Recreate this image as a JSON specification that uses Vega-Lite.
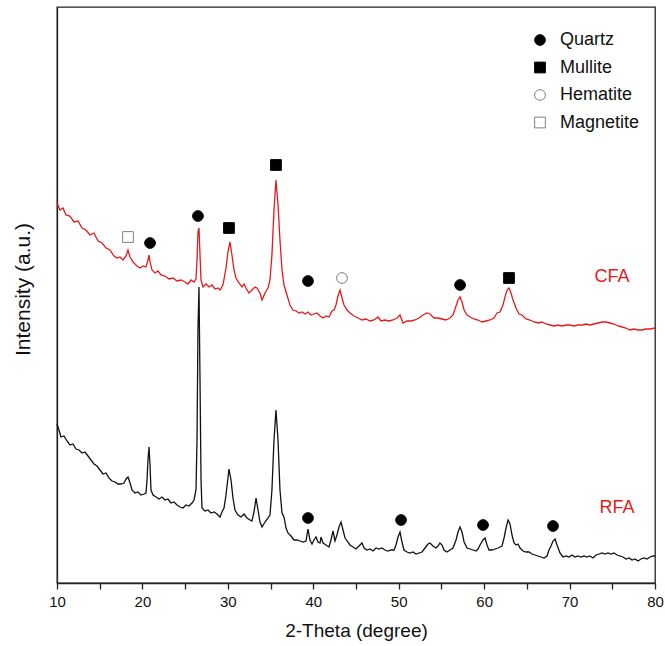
{
  "$schema": "https://vega.github.io/schema/vega-lite/v6.json",
  "width": 598,
  "height": 576,
  "autosize": {"type": "none"},
  "padding": {"left": 57, "top": 7, "right": 10, "bottom": 63},
  "background": "white",
  "config": {
    "view": {"stroke": "#222", "strokeWidth": 1.3},
    "font": "Liberation Sans",
    "axis": {"grid": false, "domainColor": "#222", "tickColor": "#222", "labelColor": "#111", "titleColor": "#111", "titleFontWeight": "normal", "labelFont": "Liberation Sans", "titleFont": "Liberation Sans"},
    "legend": {"labelFont": "Liberation Sans", "labelFontSize": 18, "labelColor": "#111"}
  },
  "datasets": {
    "xrd": [
      {"sample":"CFA","theta":10.0,"intensity":380},{"sample":"CFA","theta":10.35,"intensity":373},{"sample":"CFA","theta":10.7,"intensity":375},{"sample":"CFA","theta":11.05,"intensity":368},{"sample":"CFA","theta":11.5,"intensity":367},{"sample":"CFA","theta":12.0,"intensity":361},{"sample":"CFA","theta":12.46,"intensity":362},{"sample":"CFA","theta":12.93,"intensity":355},{"sample":"CFA","theta":13.39,"intensity":353},{"sample":"CFA","theta":13.86,"intensity":348},{"sample":"CFA","theta":14.33,"intensity":350},{"sample":"CFA","theta":14.8,"intensity":342},{"sample":"CFA","theta":15.27,"intensity":340},{"sample":"CFA","theta":15.74,"intensity":335},{"sample":"CFA","theta":16.2,"intensity":333},{"sample":"CFA","theta":16.67,"intensity":327},{"sample":"CFA","theta":17.02,"intensity":325},{"sample":"CFA","theta":17.37,"intensity":326},{"sample":"CFA","theta":17.73,"intensity":323},{"sample":"CFA","theta":18.08,"intensity":327},{"sample":"CFA","theta":18.31,"intensity":333},{"sample":"CFA","theta":18.55,"intensity":326},{"sample":"CFA","theta":18.9,"intensity":321},{"sample":"CFA","theta":19.36,"intensity":317},{"sample":"CFA","theta":19.72,"intensity":315},{"sample":"CFA","theta":20.07,"intensity":317},{"sample":"CFA","theta":20.42,"intensity":316},{"sample":"CFA","theta":20.65,"intensity":323},{"sample":"CFA","theta":20.77,"intensity":328},{"sample":"CFA","theta":20.89,"intensity":321},{"sample":"CFA","theta":21.12,"intensity":313},{"sample":"CFA","theta":21.47,"intensity":310},{"sample":"CFA","theta":21.82,"intensity":312},{"sample":"CFA","theta":22.17,"intensity":308},{"sample":"CFA","theta":22.64,"intensity":307},{"sample":"CFA","theta":23.11,"intensity":304},{"sample":"CFA","theta":23.58,"intensity":305},{"sample":"CFA","theta":24.05,"intensity":302},{"sample":"CFA","theta":24.52,"intensity":303},{"sample":"CFA","theta":24.98,"intensity":301},{"sample":"CFA","theta":25.33,"intensity":299},{"sample":"CFA","theta":25.69,"intensity":303},{"sample":"CFA","theta":26.04,"intensity":301},{"sample":"CFA","theta":26.27,"intensity":304},{"sample":"CFA","theta":26.39,"intensity":323},{"sample":"CFA","theta":26.5,"intensity":351},{"sample":"CFA","theta":26.62,"intensity":355},{"sample":"CFA","theta":26.74,"intensity":328},{"sample":"CFA","theta":26.86,"intensity":303},{"sample":"CFA","theta":27.09,"intensity":296},{"sample":"CFA","theta":27.44,"intensity":299},{"sample":"CFA","theta":27.79,"intensity":296},{"sample":"CFA","theta":28.14,"intensity":298},{"sample":"CFA","theta":28.5,"intensity":294},{"sample":"CFA","theta":28.85,"intensity":295},{"sample":"CFA","theta":29.08,"intensity":293},{"sample":"CFA","theta":29.43,"intensity":298},{"sample":"CFA","theta":29.78,"intensity":315},{"sample":"CFA","theta":30.01,"intensity":331},{"sample":"CFA","theta":30.25,"intensity":341},{"sample":"CFA","theta":30.48,"intensity":328},{"sample":"CFA","theta":30.72,"intensity":313},{"sample":"CFA","theta":30.95,"intensity":305},{"sample":"CFA","theta":31.3,"intensity":300},{"sample":"CFA","theta":31.66,"intensity":296},{"sample":"CFA","theta":31.89,"intensity":299},{"sample":"CFA","theta":32.12,"intensity":295},{"sample":"CFA","theta":32.47,"intensity":290},{"sample":"CFA","theta":32.82,"intensity":293},{"sample":"CFA","theta":33.18,"intensity":296},{"sample":"CFA","theta":33.41,"intensity":295},{"sample":"CFA","theta":33.76,"intensity":290},{"sample":"CFA","theta":34.0,"intensity":283},{"sample":"CFA","theta":34.35,"intensity":290},{"sample":"CFA","theta":34.7,"intensity":295},{"sample":"CFA","theta":34.93,"intensity":303},{"sample":"CFA","theta":35.16,"intensity":328},{"sample":"CFA","theta":35.4,"intensity":373},{"sample":"CFA","theta":35.63,"intensity":403},{"sample":"CFA","theta":35.87,"intensity":378},{"sample":"CFA","theta":36.1,"intensity":343},{"sample":"CFA","theta":36.34,"intensity":313},{"sample":"CFA","theta":36.57,"intensity":298},{"sample":"CFA","theta":36.92,"intensity":288},{"sample":"CFA","theta":37.27,"intensity":278},{"sample":"CFA","theta":37.62,"intensity":273},{"sample":"CFA","theta":37.98,"intensity":272},{"sample":"CFA","theta":38.33,"intensity":270},{"sample":"CFA","theta":38.68,"intensity":271},{"sample":"CFA","theta":39.03,"intensity":269},{"sample":"CFA","theta":39.38,"intensity":271},{"sample":"CFA","theta":39.73,"intensity":268},{"sample":"CFA","theta":40.08,"intensity":269},{"sample":"CFA","theta":40.43,"intensity":270},{"sample":"CFA","theta":40.79,"intensity":267},{"sample":"CFA","theta":41.14,"intensity":265},{"sample":"CFA","theta":41.49,"intensity":267},{"sample":"CFA","theta":41.84,"intensity":266},{"sample":"CFA","theta":42.19,"intensity":272},{"sample":"CFA","theta":42.42,"intensity":273},{"sample":"CFA","theta":42.66,"intensity":278},{"sample":"CFA","theta":42.89,"intensity":287},{"sample":"CFA","theta":43.13,"intensity":293},{"sample":"CFA","theta":43.36,"intensity":285},{"sample":"CFA","theta":43.6,"intensity":278},{"sample":"CFA","theta":43.95,"intensity":273},{"sample":"CFA","theta":44.3,"intensity":270},{"sample":"CFA","theta":44.77,"intensity":267},{"sample":"CFA","theta":45.23,"intensity":265},{"sample":"CFA","theta":45.7,"intensity":263},{"sample":"CFA","theta":46.17,"intensity":264},{"sample":"CFA","theta":46.64,"intensity":262},{"sample":"CFA","theta":47.11,"intensity":263},{"sample":"CFA","theta":47.58,"intensity":266},{"sample":"CFA","theta":47.93,"intensity":262},{"sample":"CFA","theta":48.39,"intensity":263},{"sample":"CFA","theta":48.86,"intensity":262},{"sample":"CFA","theta":49.33,"intensity":263},{"sample":"CFA","theta":49.8,"intensity":265},{"sample":"CFA","theta":50.15,"intensity":268},{"sample":"CFA","theta":50.5,"intensity":260},{"sample":"CFA","theta":50.97,"intensity":262},{"sample":"CFA","theta":51.44,"intensity":262},{"sample":"CFA","theta":51.91,"intensity":263},{"sample":"CFA","theta":52.38,"intensity":265},{"sample":"CFA","theta":52.84,"intensity":268},{"sample":"CFA","theta":53.31,"intensity":270},{"sample":"CFA","theta":53.66,"intensity":269},{"sample":"CFA","theta":54.13,"intensity":265},{"sample":"CFA","theta":54.6,"intensity":265},{"sample":"CFA","theta":55.07,"intensity":264},{"sample":"CFA","theta":55.53,"intensity":263},{"sample":"CFA","theta":56.0,"intensity":265},{"sample":"CFA","theta":56.35,"intensity":268},{"sample":"CFA","theta":56.71,"intensity":277},{"sample":"CFA","theta":56.94,"intensity":283},{"sample":"CFA","theta":57.18,"intensity":286},{"sample":"CFA","theta":57.41,"intensity":281},{"sample":"CFA","theta":57.65,"intensity":273},{"sample":"CFA","theta":58.0,"intensity":268},{"sample":"CFA","theta":58.35,"intensity":266},{"sample":"CFA","theta":58.82,"intensity":264},{"sample":"CFA","theta":59.28,"intensity":263},{"sample":"CFA","theta":59.75,"intensity":261},{"sample":"CFA","theta":60.22,"intensity":262},{"sample":"CFA","theta":60.69,"intensity":263},{"sample":"CFA","theta":61.15,"intensity":265},{"sample":"CFA","theta":61.5,"intensity":270},{"sample":"CFA","theta":61.86,"intensity":271},{"sample":"CFA","theta":62.21,"intensity":278},{"sample":"CFA","theta":62.44,"intensity":286},{"sample":"CFA","theta":62.68,"intensity":293},{"sample":"CFA","theta":62.91,"intensity":295},{"sample":"CFA","theta":63.14,"intensity":290},{"sample":"CFA","theta":63.38,"intensity":283},{"sample":"CFA","theta":63.73,"intensity":275},{"sample":"CFA","theta":64.08,"intensity":269},{"sample":"CFA","theta":64.43,"intensity":268},{"sample":"CFA","theta":64.9,"intensity":264},{"sample":"CFA","theta":65.37,"intensity":263},{"sample":"CFA","theta":65.83,"intensity":261},{"sample":"CFA","theta":66.3,"intensity":260},{"sample":"CFA","theta":66.77,"intensity":261},{"sample":"CFA","theta":67.24,"intensity":259},{"sample":"CFA","theta":67.71,"intensity":258},{"sample":"CFA","theta":68.18,"intensity":257},{"sample":"CFA","theta":68.64,"intensity":258},{"sample":"CFA","theta":69.11,"intensity":257},{"sample":"CFA","theta":69.58,"intensity":258},{"sample":"CFA","theta":70.05,"intensity":258},{"sample":"CFA","theta":70.52,"intensity":257},{"sample":"CFA","theta":70.99,"intensity":258},{"sample":"CFA","theta":71.45,"intensity":258},{"sample":"CFA","theta":71.92,"intensity":259},{"sample":"CFA","theta":72.39,"intensity":258},{"sample":"CFA","theta":72.86,"intensity":259},{"sample":"CFA","theta":73.33,"intensity":260},{"sample":"CFA","theta":73.8,"intensity":261},{"sample":"CFA","theta":74.26,"intensity":261},{"sample":"CFA","theta":74.73,"intensity":260},{"sample":"CFA","theta":75.2,"intensity":259},{"sample":"CFA","theta":75.67,"intensity":257},{"sample":"CFA","theta":76.14,"intensity":256},{"sample":"CFA","theta":76.6,"intensity":255},{"sample":"CFA","theta":77.07,"intensity":253},{"sample":"CFA","theta":77.54,"intensity":254},{"sample":"CFA","theta":78.01,"intensity":253},{"sample":"CFA","theta":78.48,"intensity":253},{"sample":"CFA","theta":78.95,"intensity":254},{"sample":"CFA","theta":79.42,"intensity":254},{"sample":"CFA","theta":80.0,"intensity":255},
      {"sample":"RFA","theta":10.0,"intensity":159},{"sample":"RFA","theta":10.23,"intensity":153},{"sample":"RFA","theta":10.47,"intensity":146},{"sample":"RFA","theta":10.82,"intensity":147},{"sample":"RFA","theta":11.17,"intensity":142},{"sample":"RFA","theta":11.52,"intensity":138},{"sample":"RFA","theta":11.87,"intensity":139},{"sample":"RFA","theta":12.22,"intensity":134},{"sample":"RFA","theta":12.58,"intensity":133},{"sample":"RFA","theta":12.93,"intensity":130},{"sample":"RFA","theta":13.28,"intensity":131},{"sample":"RFA","theta":13.63,"intensity":127},{"sample":"RFA","theta":13.98,"intensity":123},{"sample":"RFA","theta":14.33,"intensity":119},{"sample":"RFA","theta":14.68,"intensity":117},{"sample":"RFA","theta":15.03,"intensity":113},{"sample":"RFA","theta":15.38,"intensity":109},{"sample":"RFA","theta":15.74,"intensity":110},{"sample":"RFA","theta":16.09,"intensity":105},{"sample":"RFA","theta":16.44,"intensity":102},{"sample":"RFA","theta":16.79,"intensity":101},{"sample":"RFA","theta":17.14,"intensity":99},{"sample":"RFA","theta":17.49,"intensity":99},{"sample":"RFA","theta":17.84,"intensity":100},{"sample":"RFA","theta":18.08,"intensity":104},{"sample":"RFA","theta":18.31,"intensity":106},{"sample":"RFA","theta":18.55,"intensity":100},{"sample":"RFA","theta":18.78,"intensity":93},{"sample":"RFA","theta":19.13,"intensity":90},{"sample":"RFA","theta":19.48,"intensity":91},{"sample":"RFA","theta":19.83,"intensity":88},{"sample":"RFA","theta":20.18,"intensity":89},{"sample":"RFA","theta":20.42,"intensity":90},{"sample":"RFA","theta":20.54,"intensity":103},{"sample":"RFA","theta":20.65,"intensity":123},{"sample":"RFA","theta":20.77,"intensity":136},{"sample":"RFA","theta":20.89,"intensity":118},{"sample":"RFA","theta":21.0,"intensity":93},{"sample":"RFA","theta":21.24,"intensity":88},{"sample":"RFA","theta":21.59,"intensity":86},{"sample":"RFA","theta":21.94,"intensity":84},{"sample":"RFA","theta":22.29,"intensity":86},{"sample":"RFA","theta":22.64,"intensity":83},{"sample":"RFA","theta":22.99,"intensity":84},{"sample":"RFA","theta":23.34,"intensity":80},{"sample":"RFA","theta":23.7,"intensity":81},{"sample":"RFA","theta":24.05,"intensity":78},{"sample":"RFA","theta":24.4,"intensity":76},{"sample":"RFA","theta":24.75,"intensity":75},{"sample":"RFA","theta":25.1,"intensity":78},{"sample":"RFA","theta":25.45,"intensity":77},{"sample":"RFA","theta":25.8,"intensity":80},{"sample":"RFA","theta":26.04,"intensity":83},{"sample":"RFA","theta":26.27,"intensity":93},{"sample":"RFA","theta":26.39,"intensity":143},{"sample":"RFA","theta":26.5,"intensity":253},{"sample":"RFA","theta":26.62,"intensity":296},{"sample":"RFA","theta":26.74,"intensity":203},{"sample":"RFA","theta":26.86,"intensity":103},{"sample":"RFA","theta":26.97,"intensity":75},{"sample":"RFA","theta":27.32,"intensity":72},{"sample":"RFA","theta":27.67,"intensity":73},{"sample":"RFA","theta":28.03,"intensity":70},{"sample":"RFA","theta":28.38,"intensity":71},{"sample":"RFA","theta":28.73,"intensity":69},{"sample":"RFA","theta":29.08,"intensity":66},{"sample":"RFA","theta":29.31,"intensity":71},{"sample":"RFA","theta":29.55,"intensity":75},{"sample":"RFA","theta":29.78,"intensity":88},{"sample":"RFA","theta":30.01,"intensity":105},{"sample":"RFA","theta":30.13,"intensity":114},{"sample":"RFA","theta":30.37,"intensity":103},{"sample":"RFA","theta":30.6,"intensity":85},{"sample":"RFA","theta":30.83,"intensity":73},{"sample":"RFA","theta":31.19,"intensity":68},{"sample":"RFA","theta":31.54,"intensity":66},{"sample":"RFA","theta":31.89,"intensity":69},{"sample":"RFA","theta":32.24,"intensity":65},{"sample":"RFA","theta":32.59,"intensity":63},{"sample":"RFA","theta":32.82,"intensity":62},{"sample":"RFA","theta":33.06,"intensity":71},{"sample":"RFA","theta":33.3,"intensity":85},{"sample":"RFA","theta":33.53,"intensity":73},{"sample":"RFA","theta":33.76,"intensity":61},{"sample":"RFA","theta":34.0,"intensity":56},{"sample":"RFA","theta":34.35,"intensity":61},{"sample":"RFA","theta":34.7,"intensity":65},{"sample":"RFA","theta":34.93,"intensity":68},{"sample":"RFA","theta":35.16,"intensity":93},{"sample":"RFA","theta":35.4,"intensity":143},{"sample":"RFA","theta":35.63,"intensity":173},{"sample":"RFA","theta":35.87,"intensity":143},{"sample":"RFA","theta":36.1,"intensity":93},{"sample":"RFA","theta":36.34,"intensity":70},{"sample":"RFA","theta":36.57,"intensity":66},{"sample":"RFA","theta":36.81,"intensity":55},{"sample":"RFA","theta":37.04,"intensity":50},{"sample":"RFA","theta":37.39,"intensity":47},{"sample":"RFA","theta":37.74,"intensity":43},{"sample":"RFA","theta":38.09,"intensity":43},{"sample":"RFA","theta":38.44,"intensity":42},{"sample":"RFA","theta":38.8,"intensity":41},{"sample":"RFA","theta":39.15,"intensity":42},{"sample":"RFA","theta":39.26,"intensity":48},{"sample":"RFA","theta":39.38,"intensity":54},{"sample":"RFA","theta":39.61,"intensity":43},{"sample":"RFA","theta":39.85,"intensity":39},{"sample":"RFA","theta":40.08,"intensity":43},{"sample":"RFA","theta":40.32,"intensity":46},{"sample":"RFA","theta":40.55,"intensity":41},{"sample":"RFA","theta":40.79,"intensity":40},{"sample":"RFA","theta":40.9,"intensity":46},{"sample":"RFA","theta":41.14,"intensity":40},{"sample":"RFA","theta":41.49,"intensity":38},{"sample":"RFA","theta":41.84,"intensity":36},{"sample":"RFA","theta":42.07,"intensity":43},{"sample":"RFA","theta":42.31,"intensity":52},{"sample":"RFA","theta":42.54,"intensity":42},{"sample":"RFA","theta":42.77,"intensity":48},{"sample":"RFA","theta":43.01,"intensity":56},{"sample":"RFA","theta":43.25,"intensity":61},{"sample":"RFA","theta":43.48,"intensity":53},{"sample":"RFA","theta":43.72,"intensity":45},{"sample":"RFA","theta":43.95,"intensity":42},{"sample":"RFA","theta":44.3,"intensity":38},{"sample":"RFA","theta":44.65,"intensity":36},{"sample":"RFA","theta":45.0,"intensity":34},{"sample":"RFA","theta":45.35,"intensity":37},{"sample":"RFA","theta":45.7,"intensity":40},{"sample":"RFA","theta":45.94,"intensity":35},{"sample":"RFA","theta":46.29,"intensity":33},{"sample":"RFA","theta":46.64,"intensity":34},{"sample":"RFA","theta":46.99,"intensity":32},{"sample":"RFA","theta":47.34,"intensity":35},{"sample":"RFA","theta":47.69,"intensity":34},{"sample":"RFA","theta":48.04,"intensity":35},{"sample":"RFA","theta":48.39,"intensity":33},{"sample":"RFA","theta":48.74,"intensity":32},{"sample":"RFA","theta":49.1,"intensity":33},{"sample":"RFA","theta":49.45,"intensity":33},{"sample":"RFA","theta":49.68,"intensity":38},{"sample":"RFA","theta":49.92,"intensity":46},{"sample":"RFA","theta":50.15,"intensity":51},{"sample":"RFA","theta":50.38,"intensity":41},{"sample":"RFA","theta":50.62,"intensity":33},{"sample":"RFA","theta":50.97,"intensity":31},{"sample":"RFA","theta":51.32,"intensity":30},{"sample":"RFA","theta":51.67,"intensity":31},{"sample":"RFA","theta":52.02,"intensity":29},{"sample":"RFA","theta":52.38,"intensity":30},{"sample":"RFA","theta":52.73,"intensity":31},{"sample":"RFA","theta":53.08,"intensity":35},{"sample":"RFA","theta":53.43,"intensity":39},{"sample":"RFA","theta":53.66,"intensity":40},{"sample":"RFA","theta":54.01,"intensity":37},{"sample":"RFA","theta":54.36,"intensity":35},{"sample":"RFA","theta":54.6,"intensity":37},{"sample":"RFA","theta":54.83,"intensity":40},{"sample":"RFA","theta":55.07,"intensity":38},{"sample":"RFA","theta":55.3,"intensity":33},{"sample":"RFA","theta":55.65,"intensity":31},{"sample":"RFA","theta":56.0,"intensity":33},{"sample":"RFA","theta":56.35,"intensity":35},{"sample":"RFA","theta":56.71,"intensity":43},{"sample":"RFA","theta":56.94,"intensity":51},{"sample":"RFA","theta":57.18,"intensity":56},{"sample":"RFA","theta":57.41,"intensity":51},{"sample":"RFA","theta":57.65,"intensity":41},{"sample":"RFA","theta":58.0,"intensity":35},{"sample":"RFA","theta":58.35,"intensity":34},{"sample":"RFA","theta":58.7,"intensity":33},{"sample":"RFA","theta":59.05,"intensity":32},{"sample":"RFA","theta":59.28,"intensity":34},{"sample":"RFA","theta":59.52,"intensity":38},{"sample":"RFA","theta":59.87,"intensity":43},{"sample":"RFA","theta":60.1,"intensity":45},{"sample":"RFA","theta":60.34,"intensity":38},{"sample":"RFA","theta":60.57,"intensity":33},{"sample":"RFA","theta":60.92,"intensity":33},{"sample":"RFA","theta":61.27,"intensity":34},{"sample":"RFA","theta":61.62,"intensity":35},{"sample":"RFA","theta":61.86,"intensity":36},{"sample":"RFA","theta":62.09,"intensity":37},{"sample":"RFA","theta":62.33,"intensity":45},{"sample":"RFA","theta":62.56,"intensity":55},{"sample":"RFA","theta":62.8,"intensity":63},{"sample":"RFA","theta":63.03,"intensity":59},{"sample":"RFA","theta":63.26,"intensity":48},{"sample":"RFA","theta":63.5,"intensity":40},{"sample":"RFA","theta":63.73,"intensity":38},{"sample":"RFA","theta":63.97,"intensity":39},{"sample":"RFA","theta":64.2,"intensity":35},{"sample":"RFA","theta":64.55,"intensity":32},{"sample":"RFA","theta":64.9,"intensity":31},{"sample":"RFA","theta":65.25,"intensity":31},{"sample":"RFA","theta":65.6,"intensity":29},{"sample":"RFA","theta":65.95,"intensity":28},{"sample":"RFA","theta":66.3,"intensity":27},{"sample":"RFA","theta":66.66,"intensity":26},{"sample":"RFA","theta":67.01,"intensity":25},{"sample":"RFA","theta":67.36,"intensity":27},{"sample":"RFA","theta":67.59,"intensity":33},{"sample":"RFA","theta":67.83,"intensity":37},{"sample":"RFA","theta":68.06,"intensity":42},{"sample":"RFA","theta":68.3,"intensity":44},{"sample":"RFA","theta":68.53,"intensity":38},{"sample":"RFA","theta":68.88,"intensity":30},{"sample":"RFA","theta":69.23,"intensity":26},{"sample":"RFA","theta":69.58,"intensity":27},{"sample":"RFA","theta":69.93,"intensity":26},{"sample":"RFA","theta":70.28,"intensity":28},{"sample":"RFA","theta":70.63,"intensity":26},{"sample":"RFA","theta":70.99,"intensity":27},{"sample":"RFA","theta":71.34,"intensity":26},{"sample":"RFA","theta":71.69,"intensity":27},{"sample":"RFA","theta":72.04,"intensity":26},{"sample":"RFA","theta":72.39,"intensity":27},{"sample":"RFA","theta":72.74,"intensity":25},{"sample":"RFA","theta":73.09,"intensity":28},{"sample":"RFA","theta":73.45,"intensity":29},{"sample":"RFA","theta":73.8,"intensity":30},{"sample":"RFA","theta":74.15,"intensity":29},{"sample":"RFA","theta":74.5,"intensity":30},{"sample":"RFA","theta":74.85,"intensity":29},{"sample":"RFA","theta":75.2,"intensity":30},{"sample":"RFA","theta":75.55,"intensity":28},{"sample":"RFA","theta":75.9,"intensity":27},{"sample":"RFA","theta":76.25,"intensity":26},{"sample":"RFA","theta":76.6,"intensity":24},{"sample":"RFA","theta":76.96,"intensity":25},{"sample":"RFA","theta":77.31,"intensity":23},{"sample":"RFA","theta":77.66,"intensity":24},{"sample":"RFA","theta":78.01,"intensity":22},{"sample":"RFA","theta":78.36,"intensity":24},{"sample":"RFA","theta":78.71,"intensity":25},{"sample":"RFA","theta":79.06,"intensity":24},{"sample":"RFA","theta":79.42,"intensity":26},{"sample":"RFA","theta":79.77,"intensity":27},{"sample":"RFA","theta":80.0,"intensity":27}
    ],
    "phases": [
      {"mineral":"Magnetite","theta":18.31,"intensity":346},
      {"mineral":"Quartz","theta":20.89,"intensity":340},
      {"mineral":"Quartz","theta":26.5,"intensity":367},
      {"mineral":"Mullite","theta":30.13,"intensity":355},
      {"mineral":"Mullite","theta":35.63,"intensity":418},
      {"mineral":"Quartz","theta":39.38,"intensity":302},
      {"mineral":"Hematite","theta":43.36,"intensity":305},
      {"mineral":"Quartz","theta":57.18,"intensity":298},
      {"mineral":"Mullite","theta":62.91,"intensity":305},
      {"mineral":"Quartz","theta":39.38,"intensity":65},
      {"mineral":"Quartz","theta":50.27,"intensity":63},
      {"mineral":"Quartz","theta":59.87,"intensity":58},
      {"mineral":"Quartz","theta":68.06,"intensity":57}
    ],
    "labels": [
      {"label":"CFA","theta":74.97,"intensity":306},
      {"label":"RFA","theta":75.55,"intensity":75}
    ]
  },
  "encoding": {
    "x": {"field":"theta","type":"quantitative","scale":{"domain":[10,80],"nice":false,"zero":false},
      "axis":{"title":"2-Theta (degree)","titleFontSize":19,"titlePadding":12,"labelFontSize":15,"labelPadding":5,"tickSize":6,"values":[10,15,20,25,30,35,40,45,50,55,60,65,70,75,80],"labelExpr":"datum.value % 10 == 0 ? datum.label : ''","labelFlush":false,"domainWidth":1.3,"tickWidth":1.3}},
    "y": {"field":"intensity","type":"quantitative","scale":{"domain":[0,576],"nice":false,"zero":false},
      "axis":{"title":"Intensity (a.u.)","titleFontSize":21,"titlePadding":24,"titleY":282,"labels":false,"ticks":false,"domainWidth":1.3}}
  },
  "layer": [
    {
      "data": {"name":"xrd"},
      "mark": {"type":"line","strokeWidth":1.3,"interpolate":"linear"},
      "encoding": {
        "color": {"field":"sample","type":"nominal","scale":{"domain":["CFA","RFA"],"range":["#e41a1c","#111111"]},"legend":null}
      }
    },
    {
      "data": {"name":"phases"},
      "mark": {"type":"point","filled":true,"size":115,"strokeWidth":1,"opacity":1},
      "encoding": {
        "shape": {"field":"mineral","type":"nominal","scale":{"domain":["Quartz","Mullite","Hematite","Magnetite"],"range":["circle","square","circle","square"]},
          "legend":{"title":null,"orient":"none","legendX":474,"legendY":24,"rowPadding":9.5,"labelOffset":11,"symbolSize":115,"padding":0,"symbolStrokeWidth":1}},
        "fill": {"field":"mineral","type":"nominal","scale":{"domain":["Quartz","Mullite","Hematite","Magnetite"],"range":["#000000","#000000","#ffffff","#ffffff"]}},
        "stroke": {"field":"mineral","type":"nominal","scale":{"domain":["Quartz","Mullite","Hematite","Magnetite"],"range":["#000000","#000000","#808080","#808080"]}}
      }
    },
    {
      "data": {"name":"labels"},
      "mark": {"type":"text","fontSize":18,"color":"#e41a1c","align":"center","baseline":"middle","font":"Liberation Sans"},
      "encoding": {"text": {"field":"label","type":"nominal"}}
    }
  ]
}
